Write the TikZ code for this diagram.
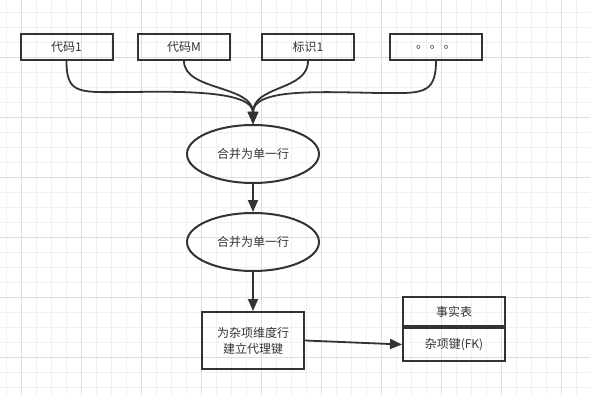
\documentclass[tikz,border=0pt]{standalone}
\usepackage{fontspec}
\setmainfont{Noto Sans CJK SC}
\usetikzlibrary{shapes, arrows.meta, calc, positioning}
\definecolor{inkgrey}{HTML}{333333}
\definecolor{gridminor}{HTML}{F0F0F0}
\definecolor{gridmajor}{HTML}{DEDEDE}

\begin{document}
\begin{tikzpicture}[x=1pt, y=-1pt,
    box/.style={draw=inkgrey, line width=2pt, rectangle, inner sep=0pt, text=inkgrey, font=\fontsize{12}{16}\selectfont, align=center},
    oval/.style={draw=inkgrey, line width=2pt, ellipse, inner sep=0pt, minimum width=132pt, minimum height=58pt, text=inkgrey, font=\fontsize{12}{16}\selectfont},
    link/.style={draw=inkgrey, line width=1.8pt, -{Triangle[length=12pt, width=10pt]}}]
        \useasboundingbox (0,0) rectangle (598,404);
        \fill [white] (0,0) rectangle (598,404);

        % background grid
        \foreach \gx in {6.7,21.7,...,590} \draw [gridminor, line width=0.8pt] (\gx,0) -- (\gx,395);
        \foreach \gy in {12.3,27.3,...,395} \draw [gridminor, line width=0.8pt] (0,\gy) -- (590,\gy);
        \foreach \gx in {21.7,81.7,...,590} \draw [gridmajor, line width=0.8pt] (\gx,0) -- (\gx,395);
        \foreach \gy in {57.3,117.3,...,395} \draw [gridmajor, line width=0.8pt] (0,\gy) -- (590,\gy);

        \node [box, minimum width=92pt, minimum height=26pt] (Ncode1) at (66.5, 47) {代码1};
        \node [box, minimum width=92pt, minimum height=26pt] (NcodeM) at (184, 47) {代码M};
        \node [box, minimum width=92pt, minimum height=26pt] (Nid1) at (308, 47) {标识1};
        \node [box, minimum width=92pt, minimum height=26pt] (Ndots) at (436, 47) {。\,。\,。};

        \node [oval] (Nmerge1) at (253, 154) {合并为单一行};
        \node [oval] (Nmerge2) at (253, 242) {合并为单一行};

        \node [box, minimum width=102pt, minimum height=57pt] (Nkey) at (253, 340.5) {为杂项维度行\\建立代理键};

        \node [box, minimum width=102pt, minimum height=29pt] (Nfact) at (454, 311.5) {事实表};
        \node [box, minimum width=102pt, minimum height=33pt, anchor=north] (Nfk) at (Nfact.south) {杂项键(FK)};

        \draw [link] (Ncode1.south) .. controls ($(Ncode1.south)+(0,35)$) and (80,92) .. (133,92)
            .. controls (190,91) and (253,92) .. (Nmerge1.north);
        \draw [link] (NcodeM.south) .. controls ($(NcodeM.south)+(0,30)$) and (253,85) .. (Nmerge1.north);
        \draw [link] (Nid1.south) .. controls ($(Nid1.south)+(0,30)$) and (253,85) .. (Nmerge1.north);
        \draw [link] (Ndots.south) .. controls ($(Ndots.south)+(0,35)$) and (420,93) .. (380,93)
            .. controls (320,92) and (253,88) .. (Nmerge1.north);

        \draw [link] (Nmerge1) -- (Nmerge2);
        \draw [link] (Nmerge2) -- (Nkey);
        \draw [link] (Nkey.east) -- (Nfk.west);
    \end{tikzpicture}
\end{document}
